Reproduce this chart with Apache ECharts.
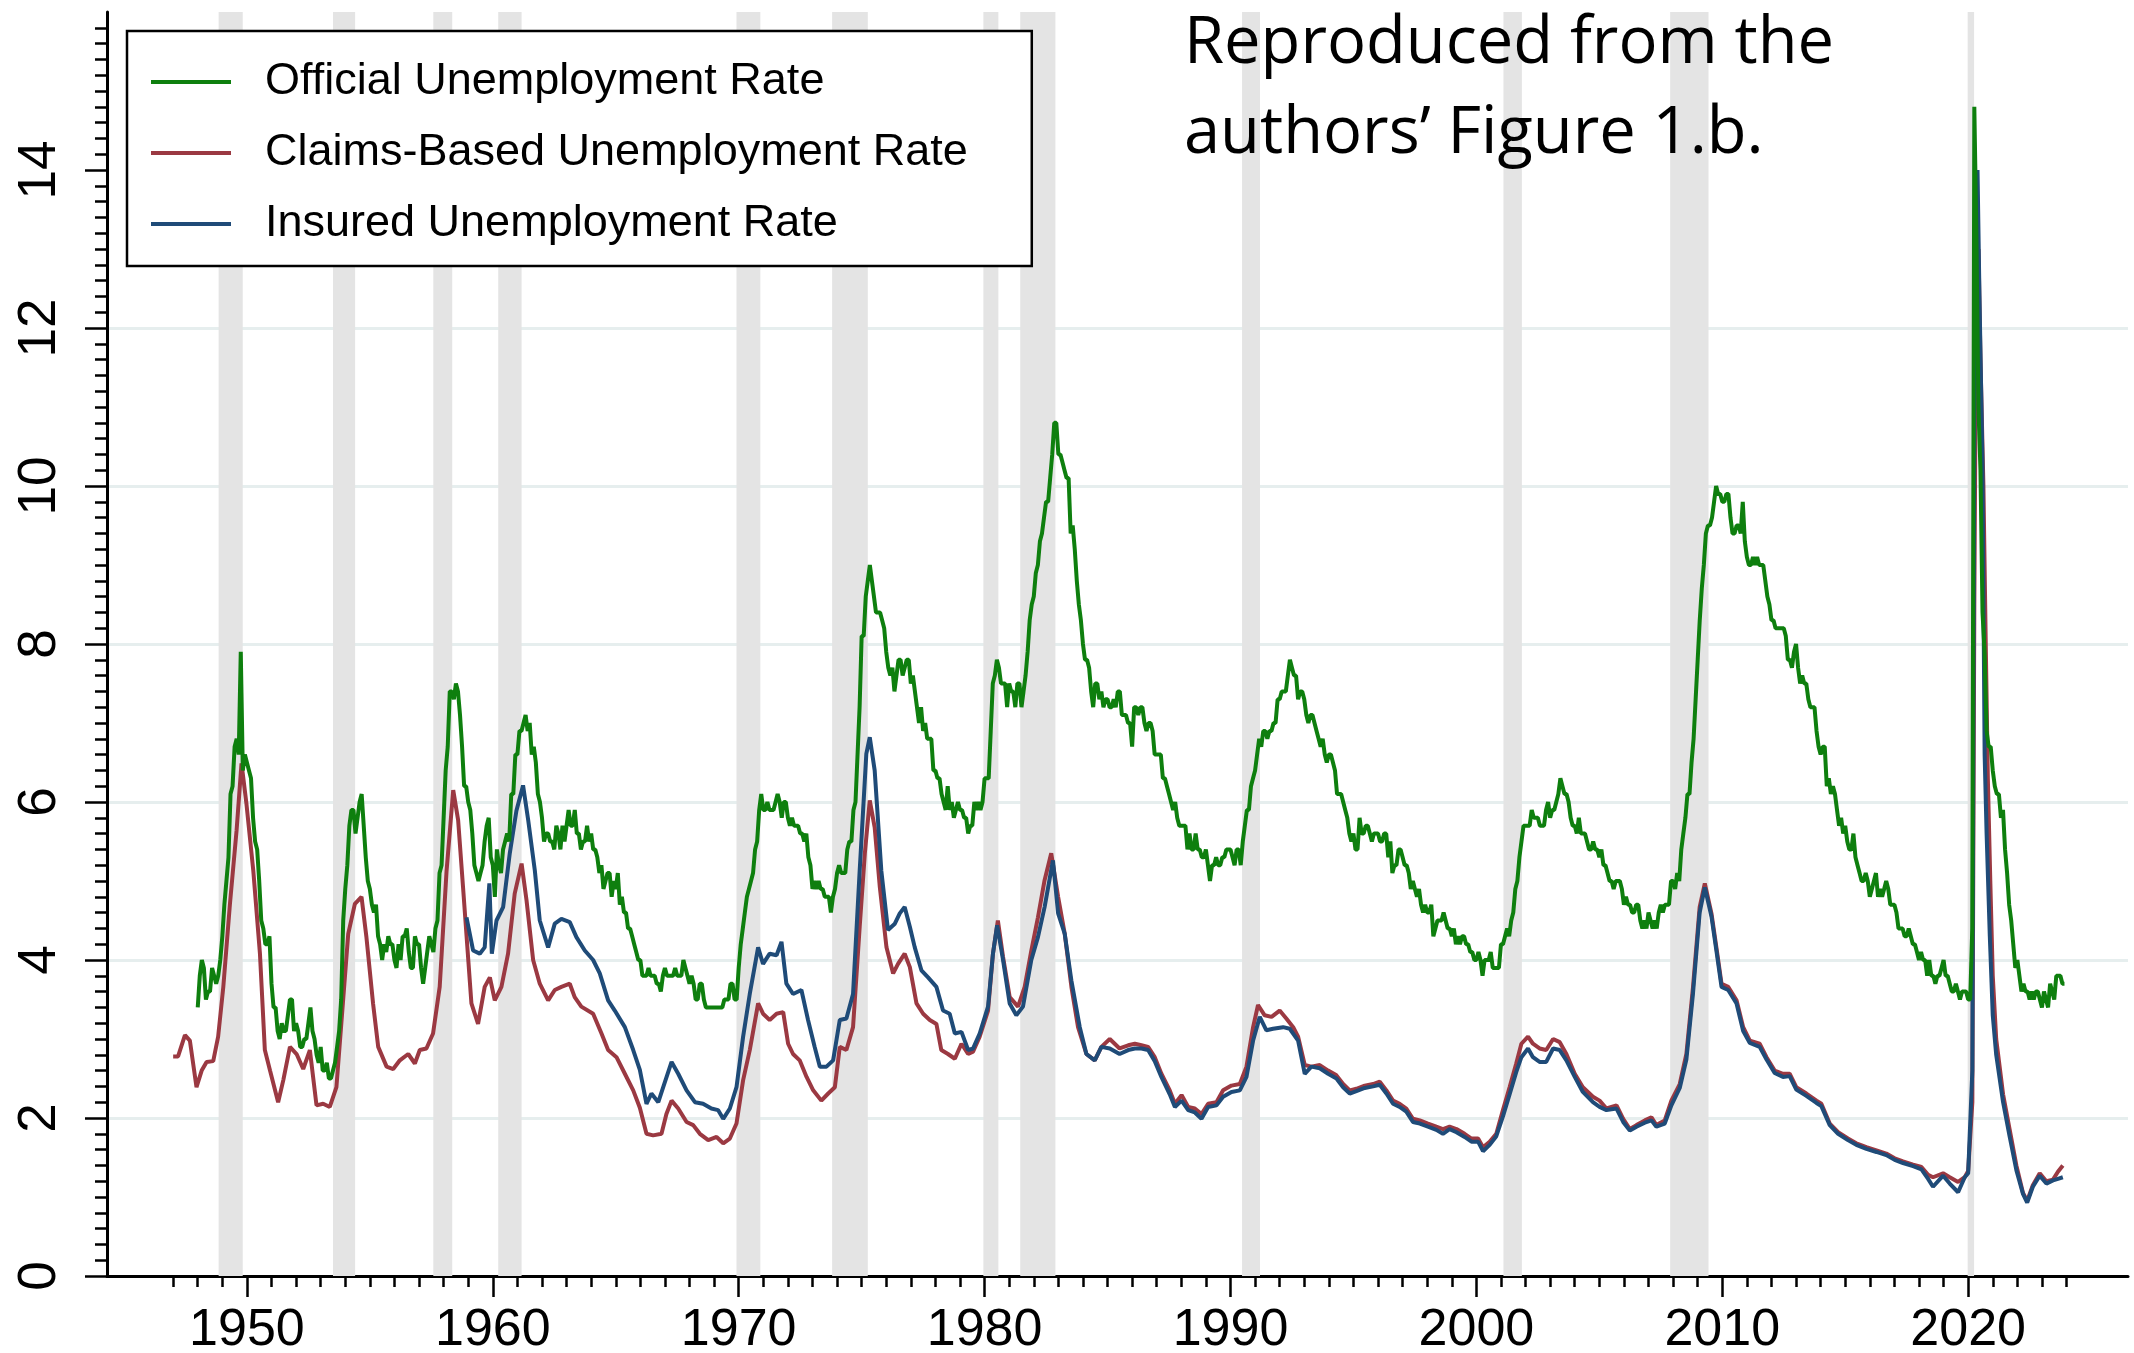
<!DOCTYPE html>
<html><head><meta charset="utf-8">
<script src="https://cdn.jsdelivr.net/npm/echarts@6/dist/echarts.min.js"></script>
<style>html,body{margin:0;padding:0;background:#fff}#c{width:2134px;height:1353px}</style>
</head><body><div id="c"></div>
<script>
const seriesNames = ['Official Unemployment Rate', 'Claims-Based Unemployment Rate', 'Insured Unemployment Rate'];

// Official unemployment rate, monthly, starting January 1948
const officialStartYear = 1948;
const officialRate = [
3.4,3.8,4.0,3.9,3.5,3.6,3.6,3.9,3.8,3.7,3.8,4.0,
4.3,4.7,5.0,5.3,6.1,6.2,6.7,6.8,6.6,7.9,6.4,6.6,
6.5,6.4,6.3,5.8,5.5,5.4,5.0,4.5,4.4,4.2,4.2,4.3,
3.7,3.4,3.4,3.1,3.0,3.2,3.1,3.1,3.3,3.5,3.5,3.1,
3.2,3.1,2.9,2.9,3.0,3.0,3.2,3.4,3.1,3.0,2.8,2.7,
2.9,2.6,2.6,2.7,2.5,2.5,2.6,2.7,2.9,3.1,3.5,4.5,
4.9,5.2,5.7,5.9,5.9,5.6,5.8,6.0,6.1,5.7,5.3,5.0,
4.9,4.7,4.6,4.7,4.3,4.2,4.0,4.2,4.1,4.3,4.2,4.2,
4.0,3.9,4.2,4.0,4.3,4.3,4.4,4.1,3.9,3.9,4.3,4.2,
4.2,3.9,3.7,3.9,4.1,4.3,4.2,4.1,4.4,4.5,5.1,5.2,
5.8,6.4,6.7,7.4,7.4,7.3,7.5,7.4,7.1,6.7,6.2,6.2,
6.0,5.9,5.6,5.2,5.1,5.0,5.1,5.2,5.5,5.7,5.8,5.3,
5.2,4.8,5.4,5.2,5.1,5.4,5.5,5.6,5.5,6.1,6.1,6.6,
6.6,6.9,6.9,7.0,7.1,6.9,7.0,6.6,6.7,6.5,6.1,6.0,
5.8,5.5,5.6,5.6,5.5,5.5,5.4,5.7,5.6,5.4,5.7,5.5,
5.7,5.9,5.7,5.7,5.9,5.6,5.6,5.4,5.5,5.5,5.7,5.5,
5.6,5.4,5.4,5.3,5.1,5.2,4.9,5.0,5.1,5.1,4.8,5.0,
4.9,5.1,4.7,4.8,4.6,4.6,4.4,4.4,4.3,4.2,4.1,4.0,
4.0,3.8,3.8,3.8,3.9,3.8,3.8,3.8,3.7,3.7,3.6,3.8,
3.9,3.8,3.8,3.8,3.8,3.9,3.8,3.8,3.8,4.0,3.9,3.8,
3.7,3.8,3.7,3.5,3.5,3.7,3.7,3.5,3.4,3.4,3.4,3.4,
3.4,3.4,3.4,3.4,3.4,3.5,3.5,3.5,3.7,3.7,3.5,3.5,
3.9,4.2,4.4,4.6,4.8,4.9,5.0,5.1,5.4,5.5,5.9,6.1,
5.9,5.9,6.0,5.9,5.9,5.9,6.0,6.1,6.0,5.8,6.0,6.0,
5.8,5.7,5.8,5.7,5.7,5.7,5.6,5.6,5.5,5.6,5.3,5.2,
4.9,5.0,4.9,5.0,4.9,4.9,4.8,4.8,4.8,4.6,4.8,4.9,
5.1,5.2,5.1,5.1,5.1,5.4,5.5,5.5,5.9,6.0,6.6,7.2,
8.1,8.1,8.6,8.8,9.0,8.8,8.6,8.4,8.4,8.4,8.3,8.2,
7.9,7.7,7.6,7.7,7.4,7.6,7.8,7.8,7.6,7.7,7.8,7.8,
7.5,7.6,7.4,7.2,7.0,7.2,6.9,7.0,6.8,6.8,6.8,6.4,
6.4,6.3,6.3,6.1,6.0,5.9,6.2,5.9,6.0,5.8,5.9,6.0,
5.9,5.9,5.8,5.8,5.6,5.7,5.7,6.0,5.9,6.0,5.9,6.0,
6.3,6.3,6.3,6.9,7.5,7.6,7.8,7.7,7.5,7.5,7.5,7.2,
7.5,7.4,7.4,7.2,7.5,7.5,7.2,7.4,7.6,7.9,8.3,8.5,
8.6,8.9,9.0,9.3,9.4,9.6,9.8,9.8,10.1,10.4,10.8,10.8,
10.4,10.4,10.3,10.2,10.1,10.1,9.4,9.5,9.2,8.8,8.5,8.3,
8.0,7.8,7.8,7.7,7.4,7.2,7.5,7.5,7.3,7.4,7.2,7.3,
7.3,7.2,7.2,7.3,7.2,7.4,7.4,7.1,7.1,7.1,7.0,7.0,
6.7,7.2,7.2,7.1,7.2,7.2,7.0,6.9,7.0,7.0,6.9,6.6,
6.6,6.6,6.6,6.3,6.3,6.2,6.1,6.0,5.9,6.0,5.8,5.7,
5.7,5.7,5.7,5.4,5.6,5.4,5.4,5.6,5.4,5.4,5.3,5.3,
5.4,5.2,5.0,5.2,5.2,5.3,5.2,5.2,5.3,5.3,5.4,5.4,
5.4,5.3,5.2,5.4,5.4,5.2,5.5,5.7,5.9,5.9,6.2,6.3,
6.4,6.6,6.8,6.7,6.9,6.9,6.8,6.9,6.9,7.0,7.0,7.3,
7.3,7.4,7.4,7.4,7.6,7.8,7.7,7.6,7.6,7.3,7.4,7.4,
7.3,7.1,7.0,7.1,7.1,7.0,6.9,6.8,6.7,6.8,6.6,6.5,
6.6,6.6,6.5,6.4,6.1,6.1,6.1,6.0,5.9,5.8,5.6,5.5,
5.6,5.4,5.4,5.8,5.6,5.6,5.7,5.7,5.6,5.5,5.6,5.6,
5.6,5.5,5.5,5.6,5.6,5.3,5.5,5.1,5.2,5.2,5.4,5.4,
5.3,5.2,5.2,5.1,4.9,5.0,4.9,4.8,4.9,4.7,4.6,4.7,
4.6,4.6,4.7,4.3,4.4,4.5,4.5,4.5,4.6,4.5,4.4,4.4,
4.3,4.4,4.2,4.3,4.2,4.3,4.3,4.2,4.2,4.1,4.1,4.0,
4.0,4.1,4.0,3.8,4.0,4.0,4.0,4.1,3.9,3.9,3.9,3.9,
4.2,4.2,4.3,4.4,4.3,4.5,4.6,4.9,5.0,5.3,5.5,5.7,
5.7,5.7,5.7,5.9,5.8,5.8,5.8,5.7,5.7,5.7,5.9,6.0,
5.8,5.9,5.9,6.0,6.1,6.3,6.2,6.1,6.1,6.0,5.8,5.7,
5.7,5.6,5.8,5.6,5.6,5.6,5.5,5.4,5.4,5.5,5.4,5.4,
5.3,5.4,5.2,5.2,5.1,5.0,5.0,4.9,5.0,5.0,5.0,4.9,
4.7,4.8,4.7,4.7,4.6,4.6,4.7,4.7,4.5,4.4,4.5,4.4,
4.6,4.5,4.4,4.5,4.4,4.6,4.7,4.6,4.7,4.7,4.7,5.0,
5.0,4.9,5.1,5.0,5.4,5.6,5.8,6.1,6.1,6.5,6.8,7.3,
7.8,8.3,8.7,9.0,9.4,9.5,9.5,9.6,9.8,10.0,9.9,9.9,
9.8,9.8,9.9,9.9,9.6,9.4,9.4,9.5,9.5,9.4,9.8,9.3,
9.1,9.0,9.0,9.1,9.0,9.1,9.0,9.0,9.0,8.8,8.6,8.5,
8.3,8.3,8.2,8.2,8.2,8.2,8.2,8.1,7.8,7.8,7.7,7.9,
8.0,7.7,7.5,7.6,7.5,7.5,7.3,7.2,7.2,7.2,6.9,6.7,
6.6,6.7,6.7,6.2,6.3,6.1,6.2,6.1,5.9,5.7,5.8,5.6,
5.7,5.5,5.4,5.4,5.6,5.3,5.2,5.1,5.0,5.0,5.1,5.0,
4.8,4.9,5.0,5.1,4.8,4.9,4.8,4.9,5.0,4.9,4.7,4.7,
4.7,4.6,4.4,4.4,4.4,4.3,4.3,4.4,4.3,4.2,4.2,4.1,
4.0,4.1,4.0,4.0,3.8,4.0,3.8,3.8,3.7,3.8,3.8,3.9,
4.0,3.8,3.8,3.7,3.6,3.6,3.7,3.6,3.5,3.6,3.6,3.6,
3.5,3.5,4.4,14.8,13.2,11.0,10.2,8.4,7.9,6.9,6.7,6.7,
6.4,6.2,6.1,6.1,5.8,5.9,5.4,5.1,4.7,4.5,4.2,3.9,
4.0,3.8,3.6,3.7,3.6,3.6,3.5,3.6,3.5,3.6,3.6,3.5,
3.4,3.6,3.5,3.4,3.7,3.6,3.5,3.8,3.8,3.8,3.7,3.7
];

// Claims-based unemployment rate: [date (decimal year), rate]
const claimsRate = [
[1947.00,2.78],[1947.20,2.78],[1947.48,3.05],[1947.68,2.98],[1947.95,2.39],[1948.16,2.60],[1948.36,2.71],[1948.63,2.72],
[1948.83,3.03],[1949.04,3.66],[1949.31,4.71],[1949.58,5.64],[1949.78,6.49],[1949.98,5.98],[1950.26,5.13],[1950.53,4.08],
[1950.73,2.86],[1950.94,2.60],[1951.27,2.20],[1951.48,2.48],[1951.75,2.90],[1952.02,2.81],[1952.29,2.62],[1952.56,2.86],
[1952.83,2.16],[1953.10,2.18],[1953.37,2.14],[1953.64,2.39],[1953.85,3.24],[1954.12,4.33],[1954.39,4.71],[1954.66,4.80],
[1954.86,4.29],[1955.13,3.45],[1955.34,2.90],[1955.68,2.65],[1955.95,2.62],[1956.22,2.73],[1956.56,2.81],[1956.83,2.69],
[1957.03,2.86],[1957.30,2.88],[1957.57,3.07],[1957.84,3.66],[1958.12,5.13],[1958.39,6.15],[1958.59,5.77],[1958.79,4.92],
[1959.13,3.45],[1959.40,3.19],[1959.67,3.66],[1959.88,3.78],[1960.08,3.49],[1960.35,3.66],[1960.62,4.08],[1960.89,4.84],
[1961.17,5.22],[1961.37,4.76],[1961.64,4.00],[1961.91,3.70],[1962.25,3.49],[1962.52,3.62],[1962.79,3.66],[1963.13,3.70],
[1963.33,3.53],[1963.60,3.41],[1964.08,3.32],[1964.42,3.07],[1964.69,2.86],[1965.03,2.77],[1965.37,2.56],[1965.71,2.35],
[1965.98,2.13],[1966.25,1.80],[1966.52,1.78],[1966.86,1.80],[1967.06,2.05],[1967.27,2.22],[1967.54,2.12],[1967.88,1.95],
[1968.15,1.91],[1968.42,1.80],[1968.76,1.72],[1969.10,1.76],[1969.37,1.68],[1969.64,1.74],[1969.91,1.93],[1970.18,2.48],
[1970.45,2.86],[1970.79,3.45],[1970.99,3.32],[1971.26,3.24],[1971.54,3.32],[1971.81,3.34],[1972.01,2.94],[1972.21,2.81],
[1972.48,2.73],[1972.76,2.52],[1973.03,2.35],[1973.36,2.22],[1973.64,2.31],[1973.91,2.39],[1974.11,2.90],[1974.38,2.86],
[1974.65,3.15],[1974.92,4.42],[1975.13,5.35],[1975.33,6.02],[1975.53,5.68],[1975.74,4.92],[1976.01,4.16],[1976.28,3.83],
[1976.48,3.95],[1976.75,4.08],[1976.96,3.91],[1977.23,3.45],[1977.50,3.32],[1977.77,3.24],[1978.04,3.19],[1978.24,2.86],
[1978.51,2.81],[1978.79,2.75],[1979.06,2.94],[1979.33,2.81],[1979.53,2.84],[1979.80,3.03],[1980.14,3.36],[1980.34,4.08],
[1980.54,4.50],[1980.75,4.04],[1981.02,3.53],[1981.36,3.41],[1981.63,3.66],[1981.90,4.12],[1982.17,4.54],[1982.44,5.01],
[1982.71,5.35],[1982.99,4.80],[1983.26,4.33],[1983.53,3.66],[1983.80,3.15],[1984.14,2.81],[1984.48,2.73],[1984.75,2.90],
[1985.09,3.00],[1985.49,2.88],[1985.84,2.92],[1986.11,2.94],[1986.38,2.92],[1986.65,2.90],[1986.92,2.77],[1987.19,2.56],
[1987.53,2.35],[1987.74,2.18],[1988.01,2.29],[1988.28,2.14],[1988.55,2.12],[1988.82,2.05],[1989.09,2.18],[1989.43,2.20],
[1989.70,2.35],[1990.04,2.41],[1990.38,2.43],[1990.65,2.65],[1990.92,3.15],[1991.12,3.43],[1991.39,3.30],[1991.67,3.28],
[1992.00,3.36],[1992.27,3.26],[1992.55,3.15],[1992.75,3.03],[1993.02,2.67],[1993.29,2.65],[1993.63,2.67],[1993.97,2.60],
[1994.31,2.54],[1994.58,2.43],[1994.85,2.35],[1995.12,2.37],[1995.46,2.41],[1995.80,2.43],[1996.07,2.46],[1996.34,2.35],
[1996.61,2.22],[1996.88,2.18],[1997.15,2.12],[1997.42,1.99],[1997.70,1.97],[1998.03,1.93],[1998.37,1.89],[1998.64,1.86],
[1998.91,1.89],[1999.19,1.86],[1999.52,1.80],[1999.80,1.74],[2000.07,1.74],[2000.27,1.63],[2000.54,1.70],[2000.81,1.80],
[2001.08,2.10],[2001.35,2.39],[2001.62,2.69],[2001.83,2.94],[2002.10,3.03],[2002.30,2.94],[2002.57,2.88],[2002.84,2.86],
[2003.12,3.00],[2003.39,2.96],[2003.66,2.81],[2004.00,2.56],[2004.33,2.39],[2004.74,2.27],[2005.01,2.22],[2005.29,2.12],
[2005.70,2.16],[2005.97,1.99],[2006.24,1.86],[2006.51,1.91],[2006.85,1.97],[2007.12,2.01],[2007.32,1.91],[2007.66,1.97],
[2007.93,2.22],[2008.27,2.43],[2008.54,2.81],[2008.81,3.66],[2009.08,4.67],[2009.29,4.97],[2009.56,4.59],[2009.76,4.16],
[2009.97,3.70],[2010.24,3.66],[2010.58,3.49],[2010.85,3.15],[2011.12,2.98],[2011.52,2.94],[2011.80,2.77],[2012.13,2.60],
[2012.47,2.56],[2012.74,2.56],[2013.01,2.39],[2013.42,2.31],[2013.83,2.22],[2014.03,2.18],[2014.37,1.93],[2014.71,1.82],
[2015.11,1.74],[2015.45,1.68],[2015.86,1.63],[2016.27,1.59],[2016.67,1.55],[2017.01,1.49],[2017.35,1.45],[2017.76,1.41],
[2018.10,1.38],[2018.37,1.28],[2018.57,1.25],[2018.98,1.30],[2019.25,1.25],[2019.59,1.19],[2019.86,1.25],[2020.00,1.33],
[2020.08,1.35],[2020.17,2.20],[2020.25,8.50],[2020.33,12.6],[2020.42,13.0],[2020.50,11.6],[2020.62,10.0],[2020.72,7.90],
[2020.80,6.30],[2020.90,5.00],[2021.00,3.80],[2021.14,3.00],[2021.42,2.30],[2021.69,1.85],[2021.96,1.40],[2022.23,1.05],
[2022.40,0.95],[2022.63,1.15],[2022.91,1.30],[2023.18,1.20],[2023.45,1.22],[2023.65,1.32],[2023.85,1.40]
];

// Insured unemployment rate: [date (decimal year), rate]
const insuredRate = [
[1958.93,4.54],[1959.20,4.12],[1959.47,4.08],[1959.67,4.16],[1959.86,4.97],[1959.96,4.08],[1960.15,4.50],[1960.42,4.67],
[1960.69,5.35],[1960.96,5.89],[1961.23,6.21],[1961.44,5.77],[1961.71,5.13],[1961.91,4.50],[1962.25,4.16],[1962.52,4.46],
[1962.79,4.52],[1963.13,4.48],[1963.40,4.29],[1963.74,4.12],[1964.08,4.00],[1964.35,3.83],[1964.69,3.49],[1964.96,3.36],
[1965.37,3.15],[1965.71,2.86],[1965.98,2.61],[1966.25,2.18],[1966.45,2.31],[1966.73,2.20],[1966.93,2.39],[1967.27,2.71],
[1967.54,2.56],[1967.88,2.35],[1968.22,2.20],[1968.55,2.18],[1968.89,2.12],[1969.16,2.10],[1969.37,1.99],[1969.64,2.12],
[1969.91,2.39],[1970.18,3.03],[1970.45,3.57],[1970.79,4.16],[1970.99,3.95],[1971.26,4.08],[1971.54,4.06],[1971.74,4.23],
[1971.94,3.70],[1972.21,3.57],[1972.55,3.62],[1972.82,3.24],[1973.09,2.90],[1973.30,2.65],[1973.57,2.65],[1973.84,2.73],
[1974.11,3.24],[1974.38,3.26],[1974.65,3.57],[1974.92,5.13],[1975.19,6.61],[1975.33,6.82],[1975.53,6.40],[1975.80,5.13],
[1976.07,4.38],[1976.35,4.46],[1976.55,4.59],[1976.75,4.67],[1976.96,4.42],[1977.16,4.16],[1977.43,3.87],[1977.70,3.78],
[1978.04,3.66],[1978.31,3.36],[1978.58,3.32],[1978.79,3.07],[1979.06,3.09],[1979.33,2.86],[1979.53,2.88],[1979.80,3.07],
[1980.14,3.41],[1980.34,4.08],[1980.51,4.44],[1980.75,4.00],[1981.02,3.45],[1981.29,3.30],[1981.56,3.41],[1981.90,4.00],
[1982.17,4.29],[1982.44,4.67],[1982.78,5.26],[1982.99,4.59],[1983.26,4.33],[1983.53,3.74],[1983.87,3.15],[1984.14,2.81],
[1984.48,2.73],[1984.75,2.90],[1985.09,2.88],[1985.49,2.81],[1985.84,2.86],[1986.11,2.88],[1986.38,2.88],[1986.65,2.86],
[1986.92,2.72],[1987.19,2.52],[1987.53,2.30],[1987.74,2.14],[1988.01,2.22],[1988.28,2.10],[1988.55,2.07],[1988.82,1.99],
[1989.09,2.14],[1989.43,2.16],[1989.70,2.27],[1990.04,2.33],[1990.38,2.35],[1990.65,2.52],[1990.92,2.98],[1991.19,3.28],
[1991.46,3.11],[1991.73,3.13],[1992.14,3.15],[1992.41,3.13],[1992.75,2.98],[1993.02,2.56],[1993.29,2.65],[1993.63,2.63],
[1993.97,2.56],[1994.31,2.50],[1994.58,2.39],[1994.85,2.31],[1995.12,2.34],[1995.46,2.38],[1995.80,2.40],[1996.07,2.42],
[1996.34,2.31],[1996.61,2.18],[1996.88,2.14],[1997.15,2.08],[1997.42,1.95],[1997.70,1.93],[1998.03,1.89],[1998.37,1.85],
[1998.64,1.80],[1998.91,1.86],[1999.19,1.82],[1999.52,1.76],[1999.80,1.70],[2000.07,1.70],[2000.27,1.58],[2000.54,1.66],
[2000.81,1.77],[2001.08,2.02],[2001.35,2.30],[2001.62,2.58],[2001.83,2.77],[2002.10,2.88],[2002.30,2.77],[2002.57,2.71],
[2002.84,2.71],[2003.12,2.88],[2003.39,2.86],[2003.66,2.73],[2004.00,2.52],[2004.33,2.33],[2004.74,2.20],[2005.01,2.14],
[2005.29,2.10],[2005.70,2.12],[2005.97,1.95],[2006.24,1.84],[2006.51,1.89],[2006.85,1.94],[2007.12,1.97],[2007.32,1.89],
[2007.66,1.93],[2007.93,2.16],[2008.27,2.38],[2008.54,2.74],[2008.81,3.58],[2009.08,4.60],[2009.29,4.92],[2009.56,4.55],
[2009.76,4.12],[2009.97,3.66],[2010.24,3.62],[2010.58,3.45],[2010.85,3.10],[2011.12,2.95],[2011.52,2.90],[2011.80,2.74],
[2012.13,2.57],[2012.47,2.52],[2012.74,2.53],[2013.01,2.36],[2013.42,2.28],[2013.83,2.19],[2014.03,2.15],[2014.37,1.91],
[2014.71,1.80],[2015.11,1.72],[2015.45,1.66],[2015.86,1.61],[2016.27,1.57],[2016.67,1.53],[2017.01,1.47],[2017.35,1.43],
[2017.76,1.39],[2018.10,1.35],[2018.37,1.23],[2018.57,1.13],[2018.98,1.27],[2019.25,1.17],[2019.59,1.06],[2019.86,1.25],
[2020.00,1.30],[2020.08,1.32],[2020.17,2.60],[2020.25,11.0],[2020.33,13.6],[2020.38,14.0],[2020.46,12.4],[2020.58,10.3],
[2020.67,6.60],[2020.75,5.60],[2020.88,4.30],[2021.00,3.30],[2021.14,2.80],[2021.42,2.20],[2021.69,1.76],[2021.96,1.34],
[2022.23,1.04],[2022.40,0.93],[2022.63,1.13],[2022.91,1.27],[2023.18,1.17],[2023.45,1.21],[2023.65,1.23],[2023.85,1.25]
];

// NBER recessions (decimal years)
const recessionStart = [1948.85, 1953.50, 1957.58, 1960.22, 1969.91, 1973.80, 1979.95, 1981.45, 1990.47, 2001.10, 2007.88, 2019.98];
const recessionEnd   = [1949.83, 1954.40, 1958.35, 1961.17, 1970.88, 1975.25, 1980.56, 1982.88, 1991.20, 2001.85, 2009.44, 2020.24];

const yTickLabels = [0, 2, 4, 6, 8, 10, 12, 14];
const xTickLabels = [1950, 1960, 1970, 1980, 1990, 2000, 2010, 2020];
const firstYearTick = 1947, lastYearTick = 2024;
const noteLines = ['Reproduced from the', 'authors\u2019 Figure 1.b.'];

const xMin = 1944.31, xMax = 2026.5, yMin = 0, yMax = 16;
const colors = {official: '#0e7f0e', claims: '#9b3942', insured: '#1f4b78'};

const yearTicks = [];
for (let y = firstYearTick; y <= lastYearTick; y++) yearTicks.push(y);

const officialData = officialRate.map((v, i) => [officialStartYear + i / 12, v]);
const recessionAreas = recessionStart.map((s, i) => [{xAxis: s}, {xAxis: recessionEnd[i]}]);

const chart = echarts.init(document.getElementById('c'), null, {renderer: 'canvas'});
const gridBox = {left: 107, right: 6, top: 12, bottom: 77, containLabel: false, outerBoundsMode: 'none'};
const labelFont = 'Liberation Sans';
const black = '#000';
const lineW = 4;

chart.setOption({
  animation: false,
  backgroundColor: '#fff',
  grid: [Object.assign({}, gridBox), Object.assign({}, gridBox)],
  legend: {
    data: seriesNames,
    orient: 'vertical',
    left: 127, top: 31,
    padding: [26, 64, 17, 24],
    itemGap: 21,
    itemWidth: 80, itemHeight: 4,
    icon: 'rect',
    backgroundColor: '#fff',
    borderColor: black, borderWidth: 2.5,
    selectedMode: false,
    textStyle: {fontFamily: labelFont, fontSize: 45, color: black, lineHeight: 50, padding: [0, 0, 0, 29]}
  },
  xAxis: [{
    type: 'value', gridIndex: 0, min: xMin, max: xMax,
    axisLine: {show: true, onZero: false, lineStyle: {color: black, width: 3}},
    axisTick: {show: true, length: 21, customValues: xTickLabels, lineStyle: {color: black, width: 2.5}},
    axisLabel: {show: true, customValues: xTickLabels, margin: 29, fontSize: 52, fontFamily: labelFont, color: black,
      formatter: v => String(v)},
    splitLine: {show: false}
  }, {
    type: 'value', gridIndex: 1, min: xMin, max: xMax,
    axisLine: {show: false},
    axisTick: {show: true, length: 11, customValues: yearTicks, lineStyle: {color: black, width: 2.5}},
    axisLabel: {show: false},
    splitLine: {show: false}
  }],
  yAxis: [{
    type: 'value', gridIndex: 0, min: yMin, max: yMax, interval: 2,
    axisLine: {show: true, onZero: false, lineStyle: {color: black, width: 3}},
    axisTick: {show: true, length: 22, customValues: yTickLabels, lineStyle: {color: black, width: 2.5}},
    minorTick: {show: true, splitNumber: 10, length: 12, lineStyle: {color: black, width: 2.5}},
    axisLabel: {show: true, customValues: yTickLabels, rotate: 90, margin: 40, fontSize: 53, fontFamily: labelFont, color: black,
      formatter: v => String(v)},
    splitLine: {show: true, showMinLine: false, showMaxLine: false, lineStyle: {color: '#e6eeee', width: 3}},
    minorSplitLine: {show: false}
  }, {
    type: 'value', gridIndex: 1, min: yMin, max: yMax, show: false
  }],
  graphic: noteLines.map((t, i) => ({
    type: 'text', left: 1184, top: 12 + i * 89.5, z: 10,
    style: {text: t, fontFamily: 'Open Sans', fontSize: 65, fill: black}
  })),
  series: [{
    name: seriesNames[1], type: 'line', xAxisIndex: 0, yAxisIndex: 0,
    data: claimsRate, symbol: 'none', color: colors.claims,
    lineStyle: {width: lineW, color: colors.claims},
    markArea: {silent: true, itemStyle: {color: '#e4e4e4'}, label: {show: false}, data: recessionAreas},
    z: 2
  }, {
    name: seriesNames[2], type: 'line', xAxisIndex: 0, yAxisIndex: 0,
    data: insuredRate, symbol: 'none', color: colors.insured,
    lineStyle: {width: lineW, color: colors.insured}, z: 3
  }, {
    name: seriesNames[0], type: 'line', xAxisIndex: 0, yAxisIndex: 0,
    data: officialData, symbol: 'none', color: colors.official,
    lineStyle: {width: lineW, color: colors.official}, z: 4
  }]
});
</script>
</body></html>
